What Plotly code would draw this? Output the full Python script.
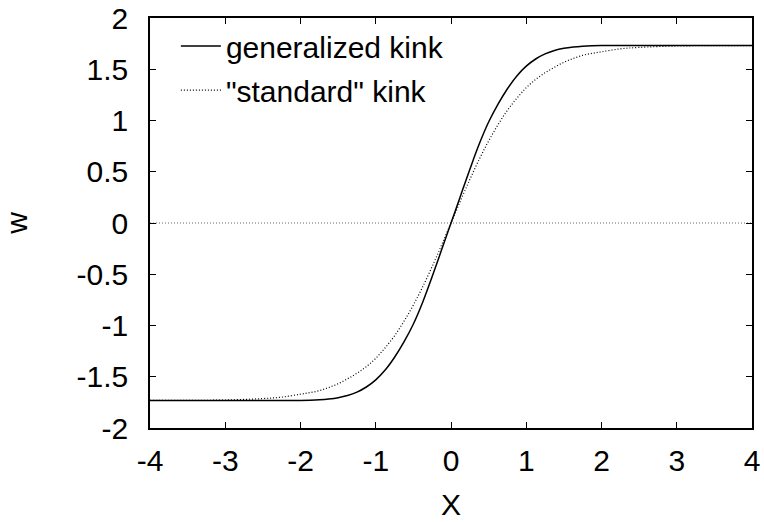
import plotly.graph_objects as go

x_vals = [-4.0, -3.5, -3.0, -2.5, -2.25, -2.0, -1.875, -1.75, -1.625, -1.5, -1.375, -1.25, -1.125,
          -1.0, -0.875, -0.75, -0.625, -0.5, -0.375, -0.25, -0.125,
          0.0, 0.125, 0.25, 0.375, 0.5, 0.625, 0.75, 0.875, 1.0,
          1.125, 1.25, 1.375, 1.5, 1.625, 1.75, 1.875, 2.0, 2.25, 2.5, 3.0, 3.5, 4.0]

generalized_kink = [-1.732, -1.732, -1.732, -1.732, -1.732, -1.731, -1.729, -1.725, -1.717, -1.704, -1.683, -1.65, -1.60,
                    -1.53, -1.435, -1.31, -1.16, -0.985, -0.77, -0.522, -0.262,
                    0.0, 0.262, 0.522, 0.77, 0.985, 1.16, 1.31, 1.435, 1.53,
                    1.60, 1.65, 1.683, 1.704, 1.717, 1.725, 1.729, 1.731, 1.732, 1.732, 1.732, 1.732, 1.732]

standard_kink = [-1.731, -1.730, -1.727, -1.713, -1.699, -1.670, -1.655, -1.636, -1.605, -1.568, -1.52, -1.466, -1.401,
                 -1.32, -1.217, -1.10, -0.959, -0.80, -0.621, -0.424, -0.215,
                 0.0, 0.215, 0.424, 0.621, 0.80, 0.959, 1.10, 1.217, 1.32,
                 1.401, 1.466, 1.52, 1.568, 1.605, 1.636, 1.655, 1.670, 1.699, 1.713, 1.727, 1.730, 1.731]

zero_x = [-4.0, 4.0]
zero_y = [0.0, 0.0]

x_ticks = [-4, -3, -2, -1, 0, 1, 2, 3, 4]
y_ticks = [-2, -1.5, -1, -0.5, 0, 0.5, 1, 1.5, 2]
y_tick_labels = ["-2", "-1.5", "-1", "-0.5", "0", "0.5", "1", "1.5", "2"]

FONT = "Liberation Sans, Arial, sans-serif"
FS = 30

fig = go.Figure()
fig.add_trace(go.Scatter(x=zero_x, y=zero_y, mode="lines", showlegend=False,
                         line=dict(color="#666666", width=1, dash="1px,2px"), hoverinfo="skip"))
fig.add_trace(go.Scatter(x=x_vals, y=generalized_kink, mode="lines", name="generalized kink",
                         line=dict(color="black", width=1.5, shape="spline", smoothing=1.0), legendgroup="a"))
fig.add_trace(go.Scatter(x=x_vals, y=standard_kink, mode="lines", name='"standard" kink',
                         line=dict(color="black", width=1.2, dash="1px,2px", shape="spline", smoothing=1.0),
                         legendgroup="b"))

fig.update_layout(
    width=764, height=522,
    margin=dict(l=150, r=12, t=18, b=94, autoexpand=False),
    paper_bgcolor="white", plot_bgcolor="white",
    font=dict(family=FONT, size=FS, color="black"),
    showlegend=True,
    legend=dict(x=0.043, y=0.995, xanchor="left", yanchor="top",
                bgcolor="rgba(0,0,0,0)", font=dict(size=FS),
                tracegroupgap=2, itemwidth=40),
)
fig.update_xaxes(range=[-4, 4], tickvals=x_ticks, ticktext=[str(v) for v in x_ticks],
                 ticks="inside", ticklen=6, tickwidth=1, tickcolor="black",
                 showline=True, linecolor="black", linewidth=1.5, mirror="ticks",
                 showgrid=False, zeroline=False, automargin=False, ticklabelstandoff=5,
                 ticklabeloverflow="allow",
                 title=dict(text="X", standoff=18, font=dict(size=FS)))
fig.update_yaxes(range=[-2, 2], tickvals=y_ticks, ticktext=y_tick_labels,
                 ticks="inside", ticklen=6, tickwidth=1, tickcolor="black",
                 showline=True, linecolor="black", linewidth=1.5, mirror="ticks",
                 showgrid=False, zeroline=False, automargin=False, ticklabelstandoff=14,
                 ticklabeloverflow="allow",
                 title=dict(text="w", standoff=44, font=dict(size=FS)))

fig.write_html("out.html", config={"displayModeBar": False},
               post_script="document.body.style.margin='0px';")
